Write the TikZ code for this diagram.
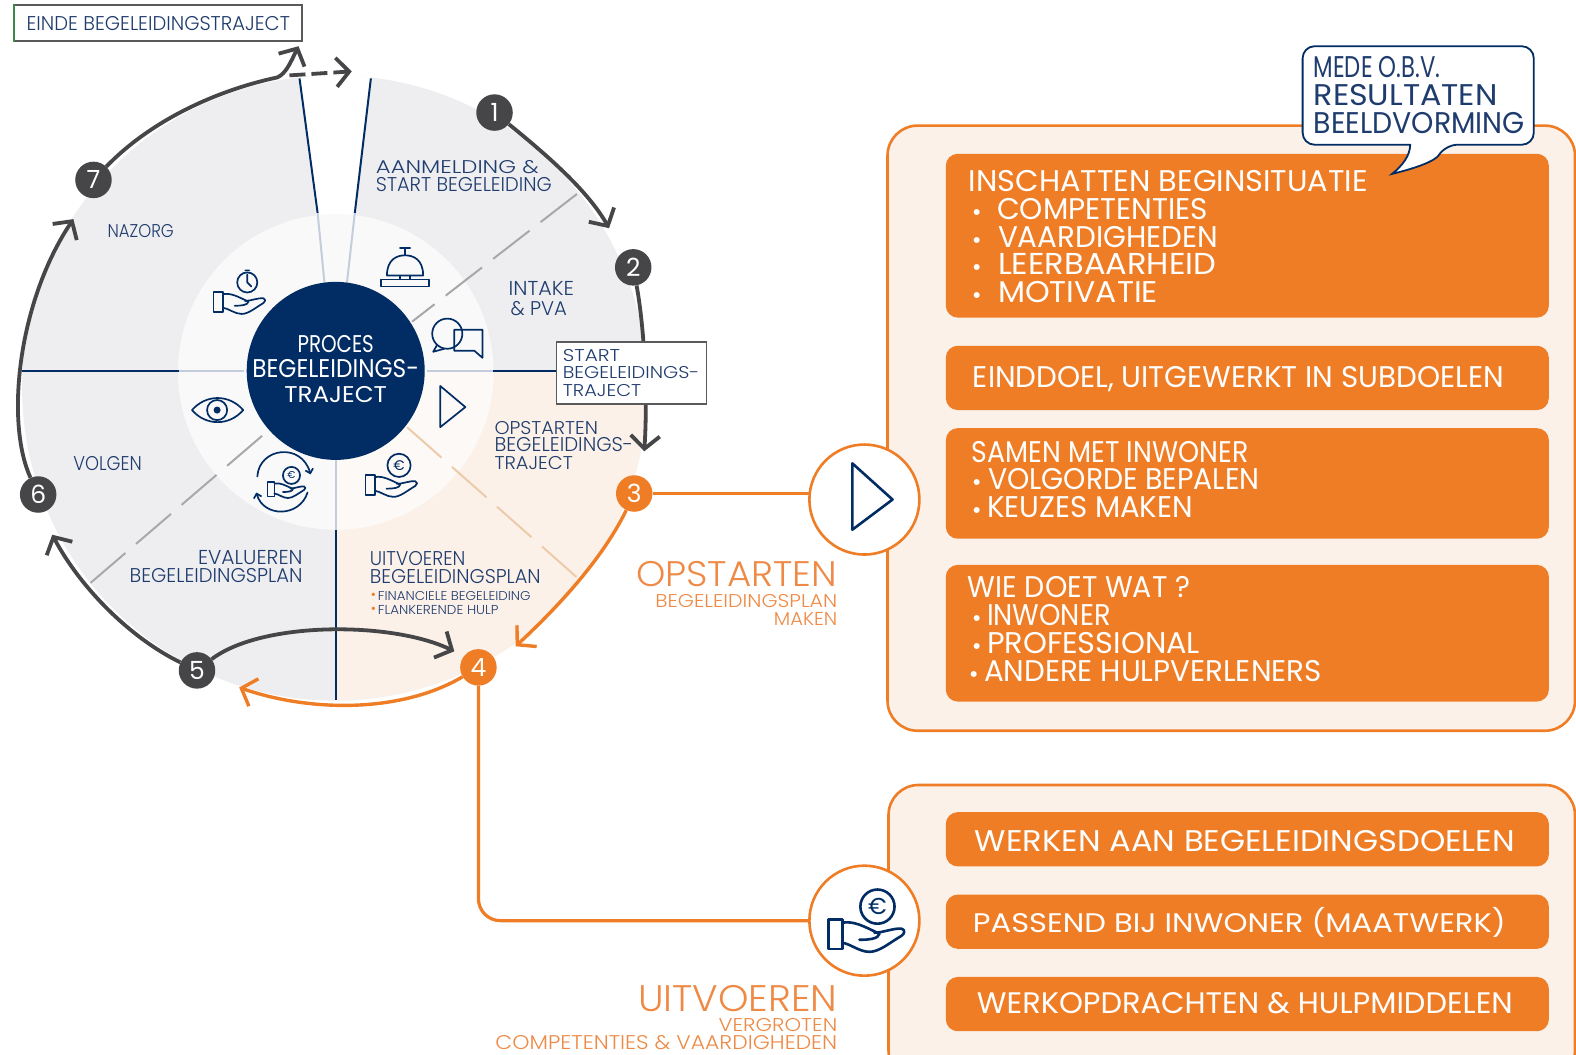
\documentclass[tikz,border=0pt]{standalone}
\usepackage{graphicx}
\usepackage{fontspec}
\setmainfont{Poppins}[UprightFont=* Light]
\newfontfamily\regf{Poppins}
\usetikzlibrary{arrows.meta}
\definecolor{navy}{HTML}{012C64}
\definecolor{navytxt}{HTML}{1F3C6E}
\definecolor{orng}{HTML}{EF7D26}
\definecolor{orngtxt}{HTML}{EE8A45}
\definecolor{pale}{HTML}{FBF1E9}
\definecolor{palein}{HTML}{FDF9F6}
\definecolor{wedge}{HTML}{EEEEF0}
\definecolor{wedgein}{HTML}{F9F9FA}
\definecolor{dgray}{HTML}{464648}
\definecolor{dash}{HTML}{A8A8AA}
\definecolor{dashor}{HTML}{EBCBA9}
\definecolor{spoke}{HTML}{C5CCDB}
\definecolor{boxg}{HTML}{5A5A5A}
\definecolor{grn}{HTML}{3C8A4A}
\pgfdeclarelayer{bg}
\pgfsetlayers{bg,main}
\newdimen\unitpx \unitpx=1.005pt
\newcommand{\fitl}[3]{\resizebox{#1\unitpx}{#2\unitpx}{#3}}
\newcommand{\bul}[2]{\makebox[#1\unitpx][l]{\raisebox{#2pt}{\fontsize{24}{24}\selectfont •}}}
\newcommand{\sbul}{\makebox[7\unitpx][l]{\raisebox{0.5pt}{\textcolor{orng}{\fontsize{14}{14}\selectfont •}}}}
\tikzset{
  x=1.005pt,y=-1.005pt,
  lbl/.style={inner sep=0,outer sep=0,anchor=north west,align=left,text=navytxt},
  lblr/.style={lbl,anchor=north east,align=right},
  wlbl/.style={lbl,text=white,execute at begin node=\regf},
  olbl/.style={lblr,text=orngtxt},
  lead/.style={font=\fontsize{10}{#1}\selectfont},
  badge/.style={circle,fill=dgray,minimum size=36.5pt,inner sep=0,text=white,font=\regf\fontsize{25}{25}\selectfont},
  obadge/.style={badge,fill=orng},
  darr/.style={draw=dgray,line width=3.8pt,-{Straight Barb[length=13pt,width=29pt,line width=3.8pt]}},
  oarr/.style={draw=orng,line width=3.4pt,-{Straight Barb[length=13pt,width=29pt,line width=3.4pt]}},
  oline/.style={draw=orng,line width=3.2pt},
  spk/.style={draw=navy,line width=2pt},
  spl/.style={draw=spoke,line width=2pt},
  icon/.style={draw=navy,line width=1.7pt,line join=round,line cap=round},
  bigicon/.style={draw=navy,line width=2.6pt,line join=round,line cap=round},
  pbox/.style={fill=orng,rounded corners=12pt},
  panel/.style={draw=orng,fill=pale,line width=2.6pt,rounded corners=30pt},
  bigc/.style={circle,draw=orng,fill=white,line width=2.6pt,minimum size=110pt,inner sep=0},
  pics/handonly/.style={code={
    \draw (-36,-5) rectangle (-22,24);
    \draw (-22,-2) .. controls (-10,-4) and (0,2) .. (15,9) .. controls (14,14) and (5,15) .. (-5,15);
    \draw (10,8) .. controls (18,8) and (30,3) .. (37,4) .. controls (41,5) and (40,9) .. (37,11) .. controls (25,18) and (15,27) .. (5,27) .. controls (-5,27) and (-14,19) .. (-22,18);
  }},
  pics/euroic/.style={code={
    \draw (0,0) circle[radius=17];
    \node[inner sep=0,text=navy,font=\regf\fontsize{#1}{#1}\selectfont] at (0,0) {€};
  }},
}
\begin{document}
\begin{tikzpicture}
\useasboundingbox (0,0) rectangle (1568,1049);
\begin{pgfonlayer}{bg}
  \fill[white] (0,0) rectangle (1568,1049);
  % outer disc
  \begin{scope}
    \clip (333,386) circle[radius=311];
    \fill[wedge] (0,0) rectangle (700,720);
    \fill[white] (323,282) -- (295,55) -- (372,55) -- (345,282) -- cycle;
    \fill[pale] (334,369) rectangle (700,720);
  \end{scope}
  \begin{scope}
    \clip (334,370) circle[radius=157];
    \fill[wedgein] (170,205) rectangle (500,535);
    \fill[palein] (334,369) rectangle (500,535);
  \end{scope}
  % spokes
  \draw[spk] (22,369) -- (178,369);
  \draw[spl] (178,369) -- (243,369);
  \draw[spk] (490,369) -- (553,369);
  \draw[spl] (425,369) -- (490,369);
  \draw[spk] (334,527) -- (334,696);
  \draw[spl] (334,456) -- (334,527);
  \draw[spk] (298,78) -- (316,212);
  \draw[spl] (316,212) -- (323,283);
  \draw[spk] (369,78) -- (353,212);
  \draw[spl] (353,212) -- (345,283);
  \draw[draw=dash,line width=2pt,dash pattern=on 46pt off 14pt] (574,193) -- (410,320);
  \draw[draw=dash,line width=2pt,dash pattern=on 46pt off 14pt] (90,580) -- (265,430);
  \draw[draw=dashor,line width=2pt,dash pattern=on 46pt off 14pt] (405,425) -- (578,578);
  % panels
  \draw[panel] (883,125) rectangle (1567,727);
  \begin{scope}
    \clip (870,770) rectangle (1568,1049);
    \draw[panel] (884,781) rectangle (1567,1075);
  \end{scope}
  \fill[pbox] (941,153) rectangle (1541,316);
  \fill[pbox] (941,344) rectangle (1541,408);
  \fill[pbox] (941,426) rectangle (1541,536);
  \fill[pbox] (941,562) rectangle (1541,698);
  \fill[pbox] (941,808) rectangle (1541,862);
  \fill[pbox] (941,890) rectangle (1541,944);
  \fill[pbox] (941,972) rectangle (1541,1026);
\end{pgfonlayer}

% centre
\node[circle,fill=navy,minimum size=178pt,inner sep=0] (hub) at (334,369) {};
\node[lbl,lead=24.6,anchor=north,align=center,text=white,execute at begin node=\regf] (hubt) at (334,334) {\fitl{76}{17}{PROCES}\\\fitl{166}{18}{BEGELEIDINGS-}\\\fitl{102}{16}{TRAJECT}};

% badges
\node[badge] (n1) at (492,112) {1};
\node[badge] (n2) at (630,266) {2};
\node[obadge] (n3) at (631,491) {3};
\node[obadge] (n4) at (476,664) {4};
\node[badge] (n5) at (196,667) {5};
\node[badge] (n6) at (38,492) {6};
\node[badge] (n7) at (93,179) {7};
\node[bigc] (bigplay) at (860,497) {};
\node[bigc] (bighand) at (860,916) {};

% arrow free ends
\coordinate (e12) at (606,227);
\coordinate (e23) at (641,449);
\coordinate (e34) at (513,643);
\coordinate (e54) at (452,648);
\coordinate (e45) at (238,684);
\coordinate (e56) at (52,532);
\coordinate (e67) at (73,218);
\coordinate (k7) at (276,77);
\coordinate (e7e) at (297,46);
\coordinate (d0) at (288,75);
\coordinate (d1) at (350,71);

\begin{pgfonlayer}{bg}
  \draw[darr] (n1) .. controls (545,155) and (585,190) .. (e12);
  \draw[darr] (n2) .. controls (640,320) and (645,385) .. (e23);
  \draw[oarr] (n3) .. controls (605,545) and (570,590) .. (e34);
  \draw[darr] (n5) .. controls (260,618) and (390,618) .. (e54);
  \draw[oarr] (n4) .. controls (400,709) and (310,709) .. (e45);
  \draw[darr] (n5) .. controls (130,635) and (80,585) .. (e56);
  \draw[darr] (n6) .. controls (5,420) and (18,300) .. (e67);
  \draw[darr] (n7) .. controls (150,120) and (215,90) .. (k7) .. controls (285,73) and (290,60) .. (e7e);
  \draw[darr,dash pattern=on 16pt off 6pt] (d0) -- (d1);
  \draw[oline] (n3) -- (n3 -| bigplay);
  \draw[oline,rounded corners=22pt] (n4) |- (bighand);
\end{pgfonlayer}

% boxes
\node[draw=boxg,fill=white,line width=1.4pt,minimum width=287pt,minimum height=36pt,inner sep=0] (einde) at (157.5,23) {\fitl{262}{14}{\textcolor{navytxt}{EINDE BEGELEIDINGSTRAJECT}}};
\draw[draw=grn,line width=1.6pt] (einde.north west) -- (einde.south west);
\node[draw=boxg,fill=white,line width=1.4pt,minimum width=150pt,minimum height=62pt,inner sep=0,align=left,text=navytxt,lead=17.6] (startb) at (628,371) {\fitl{57}{12}{START}\\\fitl{136}{12}{BEGELEIDINGS-}\\\fitl{78}{12}{TRAJECT}};

% speech bubble
\draw[draw=navy,fill=white,line width=1.8pt] [rounded corners=12pt] (1403,144) -- (1296,144) -- (1296,46) -- (1526,46) -- (1526,144) -- (1438,144) [sharp corners] .. controls (1428,160) and (1410,167) .. (1385,173) .. controls (1395,165) and (1403,155) .. (1403,144) -- cycle;
\node[lbl,lead=28.1,execute at begin node=\regf] (bubt) at (1307,56) {\fitl{126}{21}{MEDE O.B.V.}\\\fitl{183}{21}{RESULTATEN}\\\fitl{210}{21}{BEELDVORMING}};

% panel text
\node[wlbl,lead=27.6] (p1) at (964,170) {\fitl{397}{21}{INSCHATTEN BEGINSITUATIE}\\
 \hspace*{3\unitpx}\bul{25}{-1}\fitl{210}{21}{COMPETENTIES}\\
 \hspace*{3\unitpx}\bul{26}{-1}\fitl{219}{21}{VAARDIGHEDEN}\\
 \hspace*{3\unitpx}\bul{26}{-1}\fitl{217}{21}{LEERBAARHEID}\\
 \hspace*{3\unitpx}\bul{26}{-1}\fitl{159}{21}{MOTIVATIE}};
\node[wlbl] (p2) at (968,365) {\fitl{528}{21}{EINDDOEL, UITGEWERKT IN SUBDOELEN}};
\node[wlbl,lead=27.6] (p3) at (967,439) {\fitl{275}{21}{SAMEN MET INWONER}\\
 \bul{16}{-1}\fitl{270}{21}{VOLGORDE BEPALEN}\\
 \bul{15}{-1}\fitl{205}{21}{KEUZES MAKEN}};
\node[wlbl,lead=28.1] (p4) at (963,573) {\fitl{221}{21}{WIE DOET WAT ?}\\
 \hspace*{4\unitpx}\bul{15}{-1}\fitl{123}{21}{INWONER}\\
 \hspace*{4\unitpx}\bul{15}{-1}\fitl{212}{21}{PROFESSIONAL}\\
 \hspace*{1\unitpx}\bul{15}{-1}\fitl{336}{21}{ANDERE HULPVERLENERS}};
\node[wlbl] (p5) at (970,826) {\fitl{537}{21}{WERKEN AAN BEGELEIDINGSDOELEN}};
\node[wlbl] (p6) at (968,903) {\fitl{530}{25}{PASSEND BIJ INWONER (MAATWERK)}};
\node[wlbl] (p7) at (972,987) {\fitl{533}{21}{WERKOPDRACHTEN \& HULPMIDDELEN}};

% section titles
\node[olbl,lead=18.1] (o1) at (833,559) {\fitl{200}{25}{OPSTARTEN}\\[2pt]\fitl{181}{13}{BEGELEIDINGSPLAN}\\\fitl{63}{13}{MAKEN}};
\node[olbl,lead=18.1] (u1) at (833,980) {\fitl{198}{26}{UITVOEREN}\\[2pt]\fitl{118}{13}{VERGROTEN}\\\fitl{340}{14}{COMPETENTIES \& VAARDIGHEDEN}};

% disc text
\node[lbl,lead=18.1] (t1) at (374,160) {\fitl{162}{13}{AANMELDING \&}\\\fitl{175}{14}{START BEGELEIDING}};
\node[lbl,lead=20.1] (t2) at (506,280) {\fitl{65}{14}{INTAKE}\\\hspace*{2\unitpx}\fitl{56}{14}{\& PVA}};
\node[lbl] (t7) at (107,223) {\fitl{66}{13}{NAZORG}};
\node[lbl] (t6) at (73,454) {\fitl{68}{14}{VOLGEN}};
\node[lblr,lead=18.1] (t5) at (301,548) {\fitl{104}{14}{EVALUEREN}\\\fitl{172}{14}{BEGELEIDINGSPLAN}};
\node[lbl,lead=17.6] (t4) at (368,549) {\fitl{95}{14}{UITVOEREN}\\\fitl{170}{14}{BEGELEIDINGSPLAN}};
\node[lbl,lead=14.1] (t4b) at (369,588) {\sbul\fitl{152}{9}{FINANCIELE BEGELEIDING}\\\sbul\fitl{120}{9}{FLANKERENDE HULP}};
\node[lbl,lead=17.6] (t3) at (492,419) {\fitl{103}{13}{OPSTARTEN}\\\fitl{138}{14}{BEGELEIDINGS-}\\\fitl{78}{13}{TRAJECT}};

% icons in the disc
\begin{scope}[icon]
  \draw (379,278) rectangle (427,285);
  \draw (398,274) rectangle (408,278);
  \draw (385,274) .. controls (385,258) and (395,254) .. (403,254) .. controls (411,254) and (421,258) .. (421,274) -- cycle;
  \draw (403,254) -- (403,248) (398,247) -- (408,247);
  % chat
  \draw (445,332) circle[radius=15];
  \draw (435,343) -- (431,350) -- (442,347);
  \draw (452,328) -- (480,328) -- (480,356) -- (472,349) -- (452,349) -- cycle;
  % play
  \draw (438,384) -- (463,405) -- (438,425) -- cycle;
  % eye
  \draw (191,408) .. controls (205,392) and (228,392) .. (242,408) .. controls (228,424) and (205,424) .. cycle;
  \draw (216,408) circle[radius=10];
  \fill[navy] (216,408) circle[radius=3.5];
  % clock
  \draw (246,281) circle[radius=10];
  \draw (246,273) -- (246,281) -- (250,285) (244,269) -- (248,269);
  \pic[scale=.68] at (237,294) {handonly};
  % hand euro
  \pic[scale=.68] at (388,476) {handonly};
  \pic[scale=.68] at (397,463) {euroic=14};
  % cycle hand
  \pic[scale=.5] at (284,482) {handonly};
  \pic[scale=.5] at (290,473) {euroic=10};
  \draw[-{Straight Barb[length=4pt,width=8pt]}] (256,474) .. controls (258,445) and (300,440) .. (309,472);
  \draw[-{Straight Barb[length=4pt,width=8pt]}] (306,490) .. controls (298,515) and (262,515) .. (255,490);
\end{scope}
\begin{scope}[bigicon]
  \draw (848,461) -- (888,497) -- (848,527) -- cycle;
  \pic at (860,920) {handonly};
  \pic at (873,902) {euroic=23};
\end{scope}
\end{tikzpicture}
\end{document}
